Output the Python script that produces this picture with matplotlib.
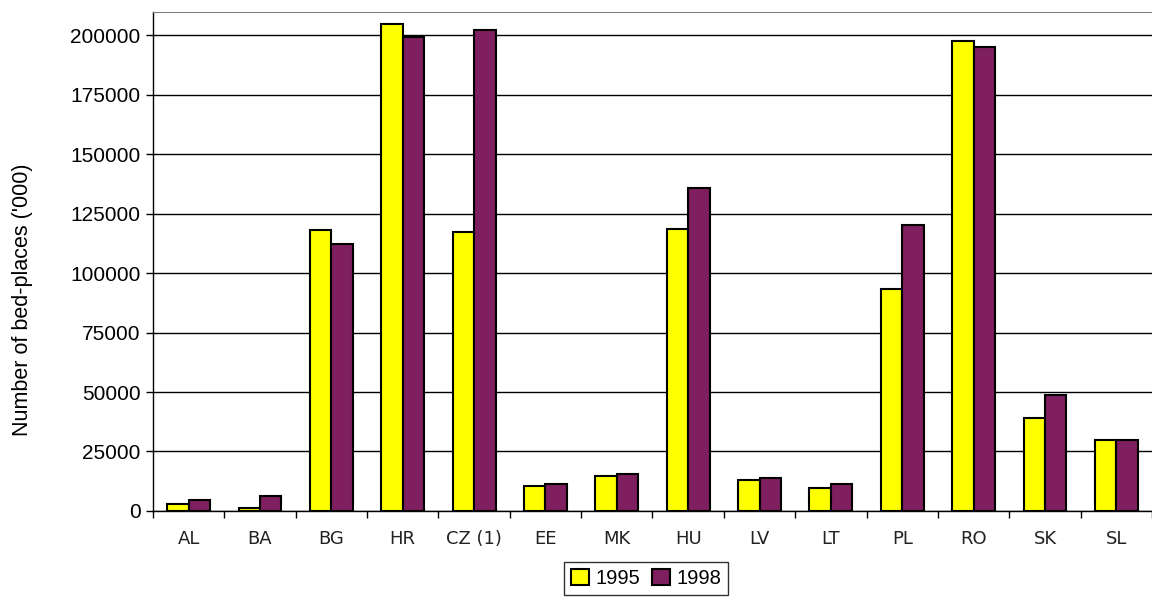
import numpy as np
import matplotlib
matplotlib.use("Agg")
import matplotlib.pyplot as plt
from matplotlib.ticker import MultipleLocator, FixedLocator

# bed-places per country, thousands
countries = ["AL", "BA", "BG", "HR", "CZ (1)", "EE", "MK", "HU", "LV", "LT", "PL", "RO", "SK", "SL"]
beds_1995 = [3000, 1400, 118000, 204800, 117200, 10500, 14700, 118400, 13000, 9700, 93200, 197400, 38900, 29800]
beds_1998 = [4600, 6300, 112200, 199000, 202300, 11300, 15500, 135700, 13900, 11300, 120100, 194900, 48800, 29800]
years = ["1995", "1998"]

YELLOW = "#ffff00"
PLUM = "#7f1f5f"

plt.rcParams["font.family"] = ["Liberation Sans", "DejaVu Sans"]

fig = plt.figure(figsize=(11.52, 5.98), dpi=100)
ax = fig.add_axes([0.1328, 0.1455, 0.8672, 0.8345])

x = np.arange(len(countries))
w = 0.3
ax.bar(x - w / 2, beds_1995, w, color=YELLOW, edgecolor="black", linewidth=1.5, label=years[0], zorder=3)
ax.bar(x + w / 2, beds_1998, w, color=PLUM, edgecolor="black", linewidth=1.5, label=years[1], zorder=3)

ax.set_xlim(-0.5, len(countries) - 0.5)
ax.set_ylim(0, 209700)

# y axis
ax.yaxis.set_major_locator(MultipleLocator(25000))
ax.yaxis.grid(True, color="black", linewidth=1, zorder=0)
ax.tick_params(axis="y", length=5, width=1, labelsize=15, pad=4)
ylab = ax.set_ylabel("Number of bed-places ('000)", fontsize=15.5)
ylab.set_va("center")
ax.yaxis.set_label_coords(-0.131, 0.423)

# x axis: ticks on category boundaries, labels at the centres
ax.xaxis.set_major_locator(FixedLocator(np.arange(len(countries) + 1) - 0.5))
ax.xaxis.set_minor_locator(FixedLocator(x))
ax.set_xticklabels([], minor=False)
ax.set_xticklabels(countries, minor=True, fontsize=13, family="DejaVu Sans", color="#222222")
ax.tick_params(axis="x", which="major", length=5, width=1)
ax.tick_params(axis="x", which="minor", length=0, pad=14)

ax.spines["top"].set_color("#808080")
ax.spines["right"].set_visible(False)
for s in ("left", "bottom"):
    ax.spines[s].set_linewidth(1)

leg = fig.legend(loc="center", bbox_to_anchor=(0.561, 0.033), ncol=2, fontsize=14.5,
                 frameon=True, fancybox=False, edgecolor="black", handlelength=0.9,
                 handleheight=0.9, handletextpad=0.3, columnspacing=0.6,
                 borderpad=0.35, borderaxespad=0)
leg.get_frame().set_linewidth(1)

fig.savefig("out.png", dpi=100)
